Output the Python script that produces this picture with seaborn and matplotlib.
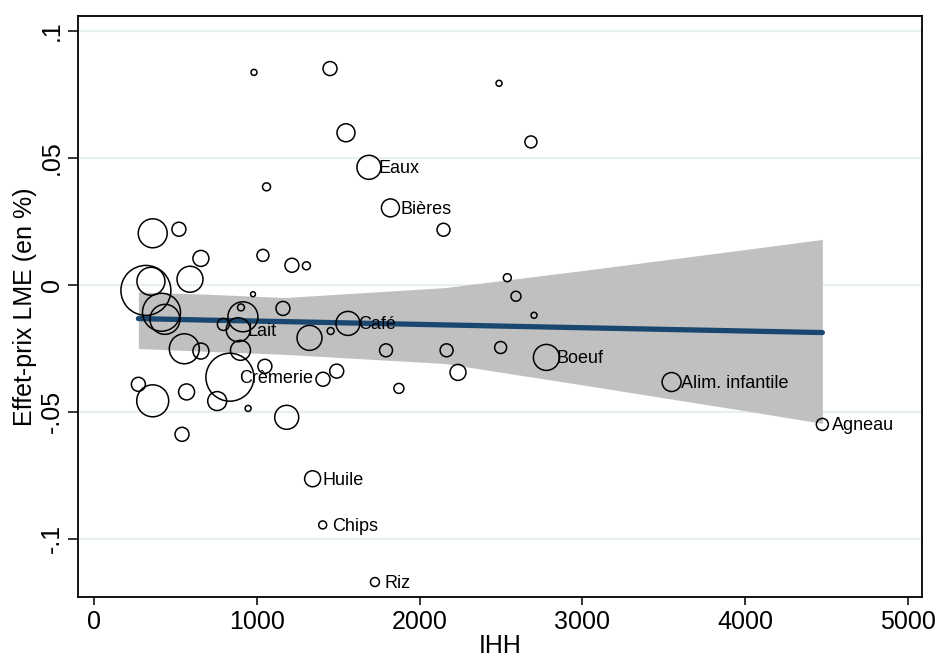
import numpy as np
import pandas as pd
import matplotlib
matplotlib.use("Agg")
import matplotlib.pyplot as plt
import seaborn as sns

# Données (IHH, effet-prix, poids du marché, nom affiché)
ihh = [983, 1450, 2488, 1548, 1689, 2684, 1060, 1821, 2147, 361,
       522, 1038, 1216, 1305, 657, 590, 319, 350, 415, 436,
       977, 1161, 903, 915, 886, 795, 555, 657, 900, 835,
       1050, 273, 361, 569, 757, 947, 1184, 541, 1560, 1324,
       1454, 1491, 1407, 2539, 2592, 2703, 1794, 2166, 2498, 2779,
       2236, 1873, 3548, 4474, 1343, 1405, 1726]
effet_prix = [0.0837, 0.0852, 0.0794, 0.0599, 0.0463, 0.0563, 0.0386, 0.0303, 0.0217, 0.0203,
              0.0219, 0.0116, 0.0077, 0.0075, 0.0104, 0.0022, -0.0022, 0.0014, -0.0108, -0.0136,
              -0.0037, -0.0093, -0.0089, -0.0126, -0.0177, -0.0156, -0.0252, -0.0261, -0.0258, -0.0364,
              -0.0321, -0.0392, -0.0457, -0.0422, -0.0458, -0.0487, -0.0522, -0.0589, -0.0152, -0.0209,
              -0.0182, -0.0340, -0.0372, 0.0028, -0.0045, -0.0120, -0.0258, -0.0258, -0.0247, -0.0286,
              -0.0345, -0.0408, -0.0383, -0.0550, -0.0764, -0.0946, -0.1171]
poids = [9, 49, 9, 81, 144, 36, 16, 81, 42, 210,
         49, 36, 49, 16, 64, 169, 625, 196, 361, 225,
         6, 49, 12, 225, 144, 36, 225, 64, 100, 576,
         49, 49, 256, 64, 90, 9, 144, 49, 144, 156,
         12, 49, 49, 16, 25, 9, 42, 42, 36, 169,
         64, 25, 90, 36, 64, 16, 20]
noms = ["", "", "", "", "Eaux", "", "", "Bières", "", "",
        "", "", "", "", "", "", "", "", "", "",
        "", "", "", "", "Lait", "", "", "", "", "Crèmerie",
        "", "", "", "", "", "", "", "", "Café", "",
        "", "", "", "", "", "", "", "", "", "Boeuf",
        "", "", "Alim. infantile", "Agneau", "Huile", "Chips", "Riz"]

# droite ajustée et intervalle de confiance
fit_x = [273, 694, 1173, 2156, 2998, 3999, 4474]
fit_y = [-0.0133, -0.0139, -0.0145, -0.0158, -0.0169, -0.0182, -0.0188]
fit_hi = [-0.0028, -0.0037, -0.0050, -0.0011, 0.0056, 0.0139, 0.0179]
fit_lo = [-0.0251, -0.0262, -0.0274, -0.0310, -0.0394, -0.0496, -0.0546]

yticks = [-0.1, -0.05, 0, 0.05, 0.1]
ytick_labels = ["-.1", "-.05", "0", ".05", ".1"]
xticks = [0, 1000, 2000, 3000, 4000, 5000]

df = pd.DataFrame({"ihh": ihh, "effet": effet_prix, "poids": poids, "nom": noms})
fit = pd.DataFrame({"x": fit_x, "y": fit_y, "lo": fit_lo, "hi": fit_hi})

sns.set_theme(style="white")
plt.rcParams["font.family"] = ["Liberation Sans", "DejaVu Sans"]
plt.rcParams["text.color"] = "black"
plt.rcParams["axes.labelcolor"] = "black"
plt.rcParams["xtick.color"] = "black"
plt.rcParams["ytick.color"] = "black"

fig, ax = plt.subplots(figsize=(9.35, 6.57), dpi=100)
fig.subplots_adjust(left=0.0834, right=0.9861, top=0.9756, bottom=0.0913)

# grille horizontale pâle
for yt in yticks:
    ax.axhline(yt, color="#e8eff1", lw=1.6, zorder=0)

ax.fill_between(fit["x"], fit["lo"], fit["hi"], color="#c0c0c0", lw=0, zorder=1)
sns.lineplot(data=fit, x="x", y="y", color="#1a476f", lw=3.8, ax=ax, zorder=2,
             solid_capstyle="round")

wmin, wmax = min(poids), max(poids)
sns.scatterplot(data=df, x="ihh", y="effet", size="poids",
                sizes=(2.07 * wmin, 2.07 * wmax), size_norm=(wmin, wmax),
                facecolor=(1, 1, 1, 0), edgecolor="black", linewidth=1.1,
                legend=False, ax=ax, zorder=3)

for _, r in df[df["nom"] != ""].iterrows():
    ax.annotate(r["nom"], (r["ihh"], r["effet"]), xytext=(7, -1),
                textcoords="offset points", ha="left", va="center",
                fontsize=13, color="black", zorder=4)

ax.set_xlim(-98, 5086)
ax.set_ylim(-0.1230, 0.1059)
ax.set_xticks(xticks)
ax.set_xticklabels([str(v) for v in xticks])
ax.set_yticks(yticks)
ax.set_yticklabels(ytick_labels, rotation=90, va="center")
ax.tick_params(axis="x", direction="out", length=6, width=1.1,
               color="black", labelcolor="black", labelsize=18, pad=3, bottom=True)
ax.tick_params(axis="y", direction="out", length=7, width=1.1,
               color="black", labelcolor="black", labelsize=18, pad=3, left=True)

ax.set_xlabel("IHH", fontsize=18, labelpad=0)
ax.set_ylabel("Effet-prix LME (en %)", fontsize=18, labelpad=2)

for sp in ax.spines.values():
    sp.set_color("black")
    sp.set_linewidth(1.3)

fig.savefig("out.png", dpi=100)
